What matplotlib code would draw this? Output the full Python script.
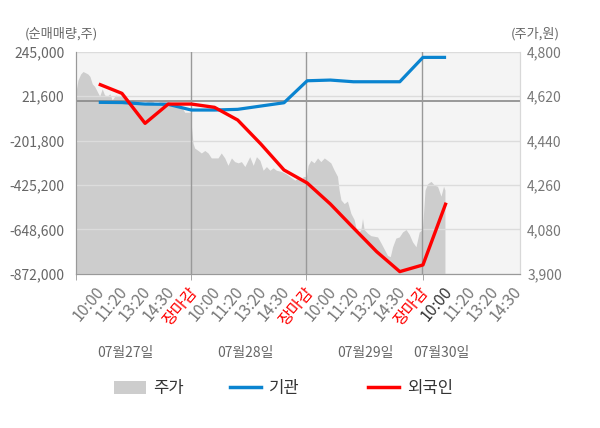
import matplotlib.pyplot as plt
import matplotlib.transforms as mtransforms
from matplotlib.lines import Line2D
from matplotlib.patches import Patch

plt.rcParams['font.family'] = ['Noto Sans CJK KR', 'DejaVu Sans']

# 주가 (분 단위 근사, x는 틱 단위 위치)
price_x = [0.00, 0.04, 0.10, 0.22, 0.32, 0.43, 0.53, 0.62, 0.72, 0.82, 0.93, 1.04, 1.15, 1.25,
           1.37, 1.48, 1.58, 1.73, 1.87, 2.01, 2.23, 2.45, 2.59, 2.81, 3.02, 3.24, 3.46, 3.67,
           3.89, 4.11, 4.32, 4.54, 4.71, 4.90, 4.97,
           5.00, 5.07, 5.14, 5.29, 5.43, 5.58, 5.72, 5.86, 6.15, 6.29, 6.44, 6.58, 6.73, 6.87,
           7.02, 7.16, 7.31, 7.52, 7.67, 7.81, 7.96, 8.10, 8.24, 8.39, 8.53, 8.67, 8.89, 9.10,
           9.32, 9.47, 9.61, 9.75, 9.83, 9.97,
           10.04, 10.16, 10.30, 10.45, 10.59, 10.74, 10.88, 11.02, 11.17, 11.31, 11.38, 11.46,
           11.60, 11.74, 11.89, 12.03, 12.17, 12.32, 12.39, 12.46, 12.61, 12.75, 13.04, 13.19,
           13.33, 13.47, 13.59, 13.69, 13.83, 13.98, 14.12, 14.27, 14.41, 14.55, 14.70, 14.84,
           14.98,
           15.09, 15.20, 15.35, 15.49, 15.63, 15.78, 15.89, 15.95]
price = [4640, 4650, 4685, 4710, 4720, 4715, 4710, 4700, 4670, 4660, 4640, 4620, 4650, 4625,
         4620, 4630, 4605, 4625, 4620, 4620, 4600, 4605, 4600, 4590, 4595, 4605, 4590, 4600,
         4600, 4595, 4590, 4585, 4555, 4555, 4555,
         4500, 4430, 4410, 4400, 4390, 4400, 4390, 4370, 4370, 4390, 4370, 4340, 4370, 4355,
         4350, 4355, 4335, 4375, 4340, 4375, 4360, 4320, 4335, 4320, 4330, 4320, 4315, 4305,
         4290, 4280, 4290, 4280, 4295, 4295,
         4340, 4360, 4350, 4370, 4355, 4370, 4360, 4350, 4320, 4295, 4240, 4200,
         4185, 4195, 4145, 4120, 4060, 4080, 4125, 4080, 4065, 4055, 4050, 4025,
         4000, 3975, 3970, 4010, 4045, 4050, 4070, 4080, 4060, 4030, 4010, 4070,
         4080,
         4240, 4265, 4275, 4260, 4255, 4215, 4255, 4240]

# 순매매량 (각 시간 틱마다)
flow_x = list(range(1, 17))
gigwan = [-9250, -10250, -17800, -19300, -47900, -47900, -44400, -27800, -11300,
          99300, 102800, 94300, 94300, 94300, 216900, 216900]
foreign = [82700, 36000, -114800, -17800, -17800, -34400, -98200, -218800, -349400,
           -414700, -520300, -640900, -759900, -860400, -826800, -513700]

tick_labels = ['10:00', '11:20', '13:20', '14:30', '장마감'] * 3 + ['10:00', '11:20', '13:20', '14:30']
dates = ['07월27일', '07월28일', '07월29일', '07월30일']
date_pos = [2.13, 7.32, 12.5, 15.79]

left_ticks = [245000, 21600, -201800, -425200, -648600, -872000]
right_ticks = [4800, 4620, 4440, 4260, 4080, 3900]


def desenhar():
    fig = plt.figure(figsize=(6, 4.28), dpi=100)
    ax = fig.add_axes([0.126, 0.36, 0.741, 0.519])
    ax.set_facecolor('#f4f4f4')

    # 주가 영역 (오른쪽 축)
    ax.fill_between(price_x, price, 3900, color='#cdcdcd', lw=0)
    ax.set_ylim(3900, 4800)
    ax.set_xlim(0, 19.2)

    # 순매매량 (왼쪽 축)
    ax2 = ax.twinx()
    ax.yaxis.tick_right()
    ax.set_yticks(right_ticks)
    ax.set_yticklabels([f'{v:,}' for v in right_ticks])
    ax.tick_params(axis='y', length=0, pad=5, labelsize=10, labelcolor='#777777')

    ax2.yaxis.tick_left()
    ax2.set_ylim(-872000, 245000)
    ax2.set_yticks(left_ticks)
    ax2.set_yticklabels([f'{v:,}' for v in left_ticks])
    ax2.tick_params(axis='y', length=0, pad=8, labelsize=10, labelcolor='#666666')
    ax2.grid(axis='y', color='#dcdcdc', lw=1)
    ax2.axhline(0, color='#888888', lw=1.2)
    for d in [5, 10, 15]:
        ax2.axvline(d - 0.03, color='#999999', lw=1)

    ax2.plot(flow_x, gigwan, color='#0a84d0', lw=2.3, solid_capstyle='butt')
    ax2.plot(flow_x, foreign, color='#ff0000', lw=2.4, solid_capstyle='butt')

    for a in (ax, ax2):
        a.spines['top'].set_visible(False)
        a.spines['left'].set_color('#999999')
        a.spines['bottom'].set_color('#999999')
        a.spines['right'].set_color('#d8d8d8')

    # x축 눈금: 라벨은 major, 날짜 경계 눈금은 minor
    ax.xaxis.remove_overlapping_locs = False
    ax.set_xticks(range(1, 20))
    ax.set_xticklabels(tick_labels, rotation=50, rotation_mode='anchor', ha='right', va='center',
                       fontsize=11.5)
    ax.tick_params(axis='x', which='major', length=0, pad=11)
    ax.set_xticks([0, 4.97, 9.97, 15.0], minor=True)
    ax.tick_params(axis='x', which='minor', length=4, color='#999999')
    offset = mtransforms.ScaledTranslation(3 / 100, 0, fig.dpi_scale_trans)
    for i, lab in enumerate(ax.get_xticklabels()):
        lab.set_transform(lab.get_transform() + offset)
        if tick_labels[i] == '장마감':
            lab.set_color('#ff0000')
        elif i == 15:
            lab.set_color('#333333')
        else:
            lab.set_color('#777777')

    for d, p in zip(dates, date_pos):
        ax.text(p, -0.355, d, transform=ax.get_xaxis_transform(), ha='center', va='center',
                fontsize=10, color='#666666')

    fig.text(0.102, 0.922, '(순매매량,주)', ha='center', va='center', fontsize=9.5, color='#666666')
    fig.text(0.8925, 0.922, '(주가,원)', ha='center', va='center', fontsize=9.5, color='#666666')

    # 범례
    handles = [Patch(facecolor='#cdcdcd', edgecolor='none'),
               Line2D([], [], color='#0a84d0', lw=2.5),
               Line2D([], [], color='#ff0000', lw=2.5)]
    names = ['주가', '기관', '외국인']
    xs = [0.19, 0.383, 0.613]
    for h, n, x in zip(handles, names, xs):
        fig.legend([h], [n], loc='center left', bbox_to_anchor=(x, 0.092), frameon=False,
                   fontsize=12, handlelength=1.9, handleheight=0.85, handletextpad=0.45,
                   borderpad=0, borderaxespad=0, labelcolor='#333333')

    fig.savefig('out.png', dpi=100)


if __name__ == '__main__':
    desenhar()
